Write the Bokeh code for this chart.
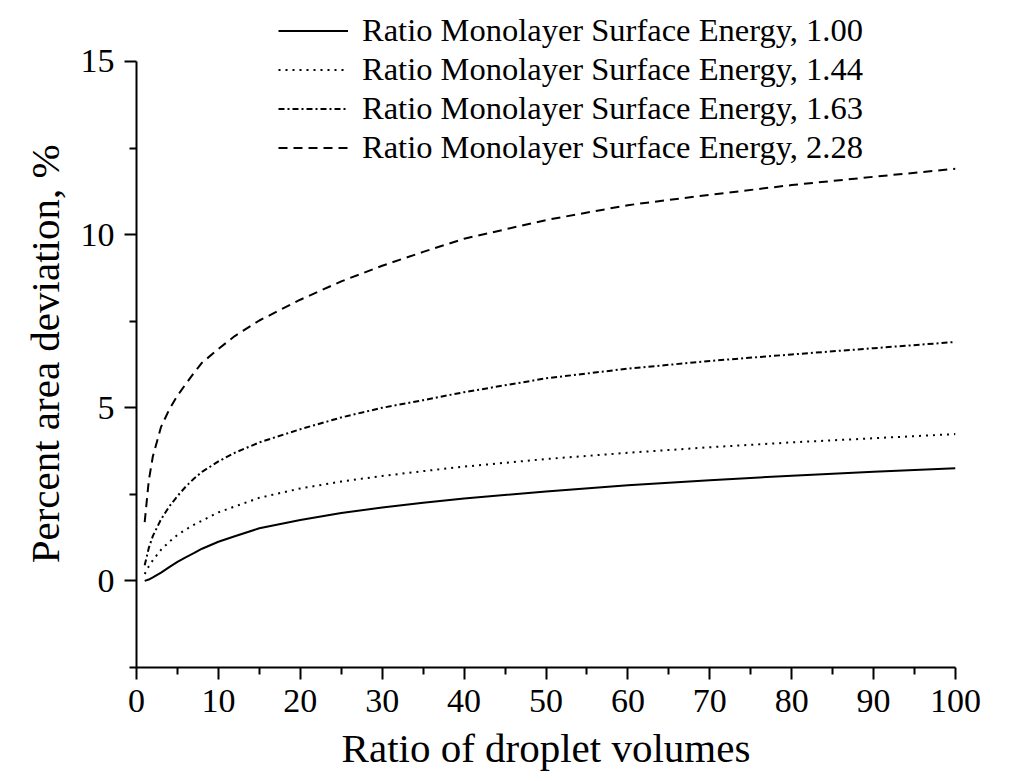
from bokeh.plotting import figure
from bokeh.models import Legend, LegendItem, Label, FixedTicker, Range1d
from bokeh.embed import file_html
from bokeh.resources import INLINE

# ---- data ----
volume_ratio = [1, 1.5, 2, 3, 4, 5, 6, 7, 8, 10, 12, 15, 20, 25, 30, 35, 40, 50, 60, 70, 80, 90, 100]
dev_100 = [0.0, 0.04, 0.1, 0.24, 0.4, 0.55, 0.68, 0.8, 0.93, 1.13, 1.29, 1.52, 1.76, 1.96, 2.12, 2.26, 2.38, 2.58, 2.76, 2.91, 3.04, 3.15, 3.25]
dev_144 = [0.2, 0.42, 0.6, 0.9, 1.13, 1.33, 1.48, 1.62, 1.74, 1.98, 2.15, 2.4, 2.67, 2.87, 3.03, 3.17, 3.3, 3.52, 3.7, 3.86, 4.0, 4.12, 4.24]
dev_163 = [0.45, 0.95, 1.3, 1.78, 2.15, 2.45, 2.72, 2.95, 3.15, 3.45, 3.7, 4.0, 4.38, 4.72, 5.0, 5.22, 5.45, 5.85, 6.13, 6.35, 6.54, 6.72, 6.9]
dev_228 = [1.7, 2.9, 3.6, 4.45, 4.95, 5.35, 5.68, 6.0, 6.3, 6.7, 7.07, 7.52, 8.12, 8.65, 9.1, 9.5, 9.88, 10.42, 10.85, 11.15, 11.43, 11.67, 11.9]

series_names = ["1.00", "1.44", "1.63", "2.28"]
series_values = [dev_100, dev_144, dev_163, dev_228]
series_dash = ["solid", "2 5", "6 3 2 3", "9 6"]

x_ticks = [0, 10, 20, 30, 40, 50, 60, 70, 80, 90, 100]
x_minor = [5, 15, 25, 35, 45, 55, 65, 75, 85, 95]
y_ticks = [0, 5, 10, 15]
y_minor = [-2.5, 2.5, 7.5, 12.5]

FONT = "Liberation Serif"

p = figure(width=1025, height=781, output_backend="svg", toolbar_location=None,
           x_range=Range1d(0, 100), y_range=Range1d(-2.5, 16.5),
           min_border_left=136, min_border_right=70, min_border_top=9, min_border_bottom=114)
p.outline_line_color = None
p.xgrid.visible = False
p.ygrid.visible = False
p.background_fill_color = "white"
p.border_fill_color = "white"

for ax in (p.xaxis[0], p.yaxis[0]):
    ax.axis_line_width = 2
    ax.axis_line_color = "black"
    ax.major_tick_line_width = 2
    ax.minor_tick_line_width = 2
    ax.major_tick_out = 12
    ax.major_tick_in = 0
    ax.minor_tick_out = 7
    ax.minor_tick_in = 0
    ax.major_label_text_font = FONT
    ax.major_label_text_font_size = "34px"
    ax.major_label_text_color = "black"
    ax.axis_label_text_font = FONT
    ax.axis_label_text_font_size = "41px"
    ax.axis_label_text_font_style = "normal"
    ax.axis_label_text_color = "black"

p.xaxis[0].ticker = FixedTicker(ticks=x_ticks, minor_ticks=x_minor)
p.yaxis[0].ticker = FixedTicker(ticks=y_ticks, minor_ticks=y_minor)
p.yaxis[0].bounds = (-2.5, 15)
p.xaxis[0].axis_label = "Ratio of droplet volumes"
# trailing no-break spaces shift the centred label down to the middle of the drawn axis
p.yaxis[0].axis_label = "Percent area deviation, %\u00a0\u00a0\u00a0"
p.xaxis[0].major_label_standoff = 10
p.yaxis[0].major_label_standoff = 10
p.xaxis[0].axis_label_standoff = 10
p.yaxis[0].axis_label_standoff = 10

items = []
for name, vals, dash in zip(series_names, series_values, series_dash):
    r = p.line(volume_ratio, vals, line_color="black", line_width=2, line_dash=dash)
    items.append(LegendItem(label="Ratio Monolayer Surface Energy, " + name, renderers=[r]))
    p.add_layout(Label(x=volume_ratio[-1], y=vals[-1], text=name, x_offset=8,
                       text_baseline="middle", text_font=FONT, text_font_size="34px",
                       text_color="black"))

legend = Legend(items=items, location=(142, 500), glyph_width=70, glyph_height=39,
                label_height=39, label_standoff=14, padding=0, spacing=0, margin=0,
                border_line_color=None, background_fill_alpha=0,
                label_text_font=FONT, label_text_font_size="32.5px", label_text_color="black")
p.add_layout(legend)

open("out.html", "w").write(file_html(p, INLINE))
